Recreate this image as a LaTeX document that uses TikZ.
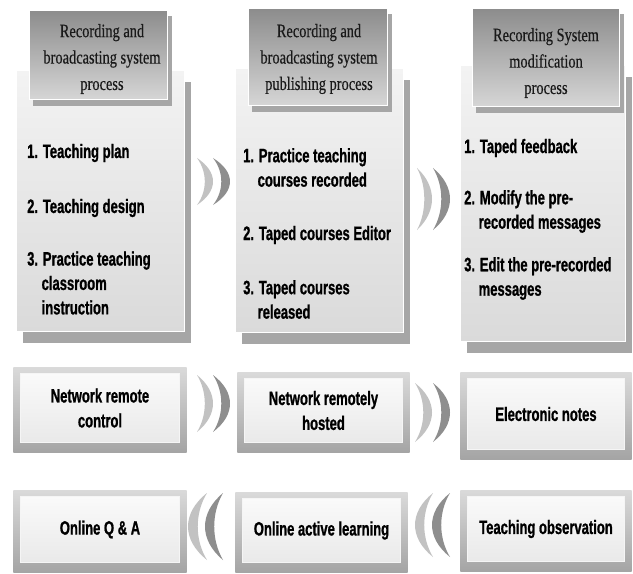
\documentclass[tikz,border=0pt]{standalone}
\usepackage{fontspec}
\setmainfont{Liberation Sans}
\newfontfamily\itemfont[FakeStretch=0.67, FakeBold=0.9]{Liberation Sans}
\newfontfamily\headfont[FakeStretch=0.76, FakeBold=0.4]{Liberation Serif}
\usetikzlibrary{shadows}

\definecolor{headtop}{HTML}{8C8C8C}
\definecolor{headbot}{HTML}{D6D6D6}
\definecolor{paneltop}{HTML}{F3F3F3}
\definecolor{panelbot}{HTML}{DADADA}
\definecolor{shadegray}{HTML}{A6A6A6}
\definecolor{frametop}{HTML}{DADADA}
\definecolor{framebot}{HTML}{A4A4A4}
\definecolor{facetop}{HTML}{FAFAFA}
\definecolor{facebot}{HTML}{E9E9E9}
\definecolor{moonlight}{HTML}{C2C2C2}
\definecolor{moondark}{HTML}{8E8E8E}

% crescent: colour, tip x, top y, bottom y, bulge depth (negative bulges left)
\newcommand{\moon}[5]{%
  \fill[#1] (#2,#3)
    .. controls ({#2+1.333*(#5)},{#3+0.3*(#4-#3)}) and ({#2+1.333*(#5)},{#3+0.7*(#4-#3)}) .. (#2,#4)
    .. controls ({#2+0.65*(#5)},{#3+0.7*(#4-#3)}) and ({#2+0.65*(#5)},{#3+0.3*(#4-#3)}) .. cycle;}

\tikzset{
  box/.style={rectangle, inner sep=0pt, outer sep=0pt},
  panel/.style={box, draw=white, line width=1bp, top color=paneltop, bottom color=panelbot,
    drop shadow={shadow xshift=6.5bp, shadow yshift=-11.5bp, fill=shadegray, opacity=1}},
  head/.style={box, draw=white, line width=1bp, top color=headtop, bottom color=headbot,
    drop shadow={shadow xshift=4bp, shadow yshift=-6bp, fill=shadegray, opacity=1}},
  headtext/.style={inner sep=0pt, align=center, text=black!90, font=\headfont\fontsize{19}{26.5}\selectfont},
  item/.style={anchor=west, inner sep=0pt, align=left, font=\itemfont\bfseries\fontsize{19.5}{24.5}\selectfont},
  frame/.style={box, top color=frametop, bottom color=framebot},
  face/.style={box, draw=white!92!gray, line width=0.8bp, top color=facetop, bottom color=facebot,
    align=center, font=\itemfont\bfseries\fontsize{19.5}{25}\selectfont},
}
\newcommand{\ind}{\hphantom{1.\ }}

\begin{document}
\begin{tikzpicture}[x=1bp, y=-1bp]
\fill[white] (0,0) rectangle (633,574);
\useasboundingbox (0,0) rectangle (633,574);

% process panels
\node[panel, minimum width=169, minimum height=262] (p1) at (100.5,201) {};
\node[panel, minimum width=169, minimum height=265] (p2) at (319.5,200.5) {};
\node[panel, minimum width=166, minimum height=277] (p3) at (543,203.5) {};

% panel titles
\node[head, minimum width=139, minimum height=90] (h1) at (98.5,55) {};
\node[head, minimum width=140, minimum height=98] (h2) at (318,57) {};
\node[head, minimum width=148, minimum height=99] (h3) at (546,57.5) {};
\node[headtext] (h1t) at (102,59) {Recording and\\broadcasting system\\process};
\node[headtext] (h2t) at (319,59) {Recording and\\broadcasting system\\publishing process};
\node[headtext] (h3t) at (546,63) {Recording System\\modification\\process};

% panel steps
\node[item] (p1a) at (27,153) {1. Teaching plan};
\node[item] (p1b) at (27,208) {2. Teaching design};
\node[item] (p1c) at (27,283) {3. Practice teaching\\\ind classroom\\\ind instruction};

\node[item] (p2a) at (243,167.5) {1. Practice teaching\\\ind courses recorded};
\node[item] (p2b) at (243,235) {2. Taped courses Editor};
\node[item] (p2c) at (243,299.5) {3. Taped courses\\\ind released};

\node[item] (p3a) at (464,148) {1. Taped feedback};
\node[item] (p3b) at (464,211.5) {2. Modify the pre-\\\ind recorded messages};
\node[item] (p3c) at (464,278.5) {3. Edit the pre-recorded\\\ind messages};

% service boxes, first row
\node[frame, minimum width=174, minimum height=86] (b1) at (100,410) {};
\node[face, minimum width=160, minimum height=70] (b1f) at (100,408) {Network remote\\control};
\node[frame, minimum width=173, minimum height=81] (b2) at (323.5,412.5) {};
\node[face, minimum width=159, minimum height=65] (b2f) at (323.5,410.5) {Network remotely\\hosted};
\node[frame, minimum width=172, minimum height=88] (b3) at (546,416) {};
\node[face, minimum width=158, minimum height=72] (b3f) at (546,414) {Electronic notes};

% service boxes, second row
\node[frame, minimum width=174, minimum height=83] (b4) at (100,531.5) {};
\node[face, minimum width=160, minimum height=67] (b4f) at (100,529.5) {Online Q \& A};
\node[frame, minimum width=173, minimum height=81] (b5) at (321.5,532.5) {};
\node[face, minimum width=159, minimum height=65] (b5f) at (321.5,530.5) {Online active learning};
\node[frame, minimum width=172, minimum height=82] (b6) at (546,531) {};
\node[face, minimum width=158, minimum height=66] (b6f) at (546,529) {Teaching observation};

% flow marks between the boxes
\moon{moonlight}{197}{158}{205}{16}
\moon{moondark}{213}{158}{205}{17}
\moon{moonlight}{417}{168}{230}{15}
\moon{moondark}{433}{168}{230}{17}

\moon{moonlight}{197}{375}{432}{16}
\moon{moondark}{213}{375}{432}{17}
\moon{moonlight}{415}{383}{442}{17}
\moon{moondark}{433}{383}{442}{17}

\moon{moonlight}{207}{493}{560}{-19}
\moon{moondark}{223}{493}{560}{-18}
\moon{moonlight}{433}{493}{557}{-18}
\moon{moondark}{450}{493}{557}{-18}
\end{tikzpicture}
\end{document}
